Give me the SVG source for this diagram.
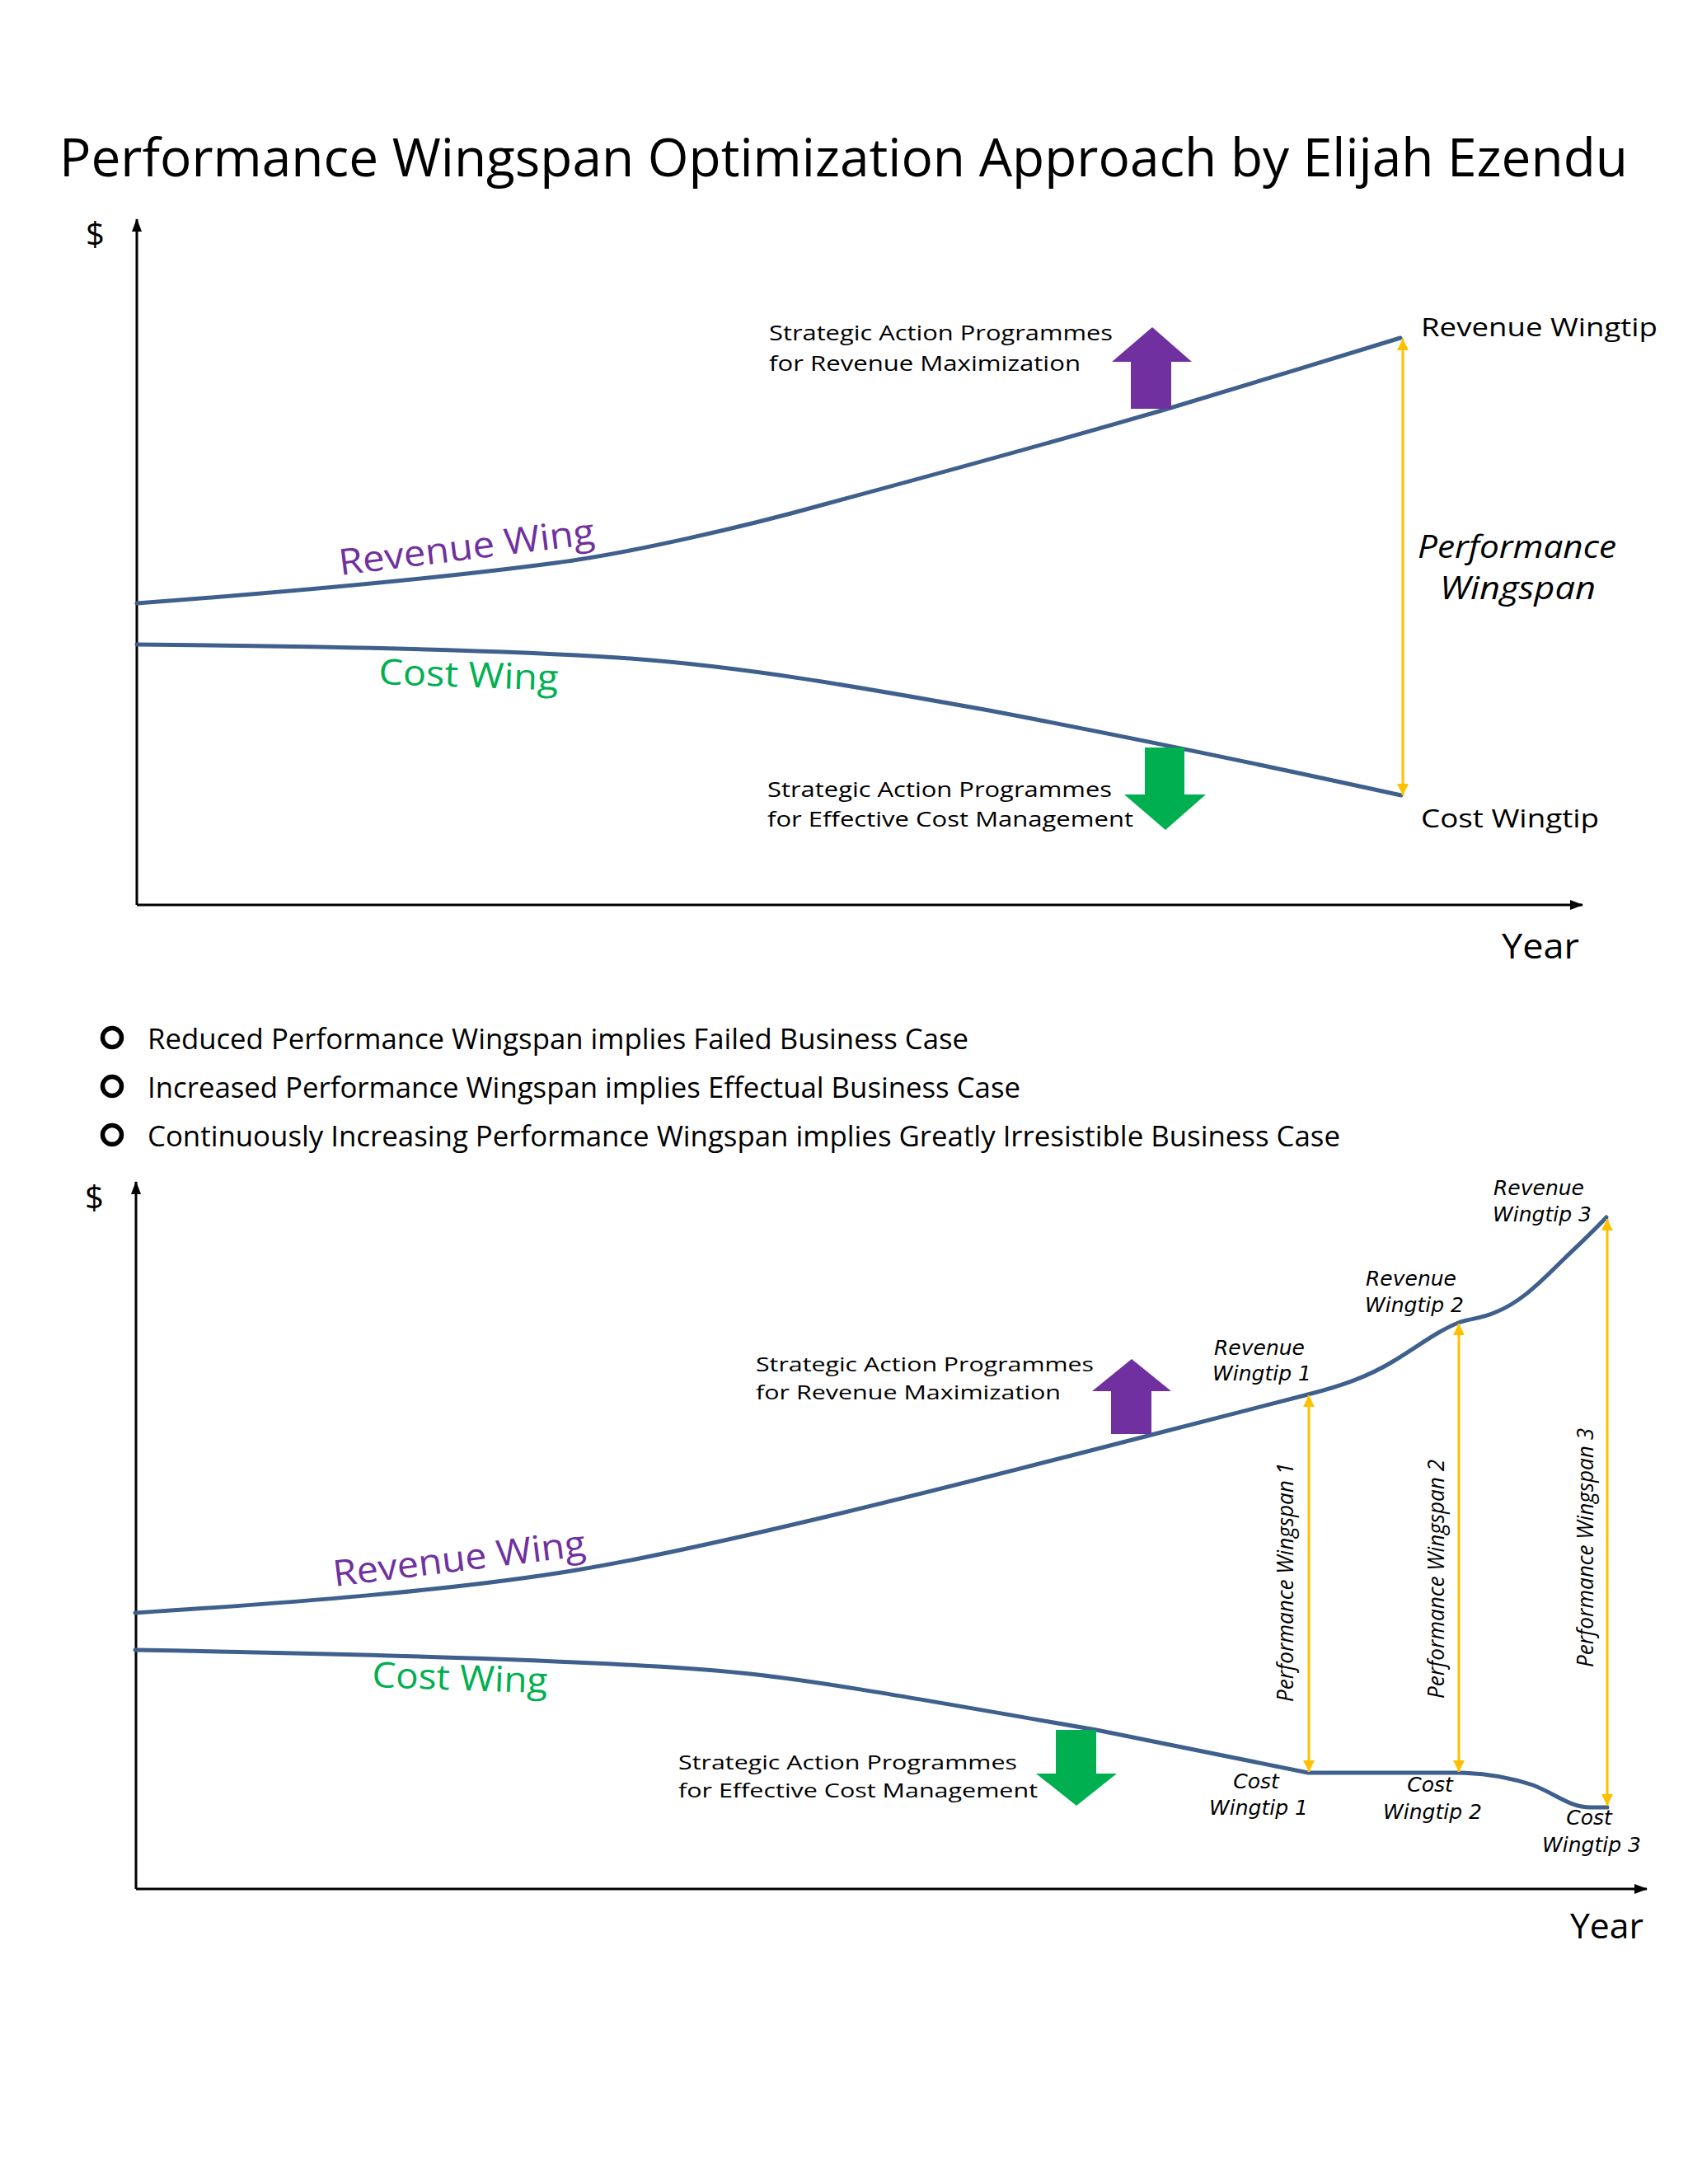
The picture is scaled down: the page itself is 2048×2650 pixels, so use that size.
<svg xmlns="http://www.w3.org/2000/svg" width="2048" height="2650" viewBox="0 0 2048 2650">
<style>
  .t { font-family: "Open Sans", "Liberation Sans", sans-serif; fill: #000; }
  .it { font-family: "Open Sans", "Liberation Sans", sans-serif; font-style: italic; fill: #000; }
  .tip { font-family: "DejaVu Sans", "Verdana", sans-serif; font-style: italic; font-size: 25px; fill: #000; }
  .wing { fill: none; stroke: #3F5F8C; stroke-width: 5; stroke-linecap: round; }
  .axis { fill: none; stroke: #000; stroke-width: 3; }
  .span { stroke: #FFC000; stroke-width: 3; }
  .rev { fill: #7030A0; }
  .cost { fill: #00B050; }
</style>
<defs>
  <marker id="axhead" viewBox="0 0 16 12" refX="15" refY="6" markerWidth="16" markerHeight="12" markerUnits="userSpaceOnUse" orient="auto">
    <path d="M0,0 L16,6 L0,12 z" fill="#000"/>
  </marker>
  <marker id="yhead" viewBox="0 0 14 14" refX="14" refY="7" markerWidth="14" markerHeight="14" markerUnits="userSpaceOnUse" orient="auto-start-reverse">
    <path d="M0,0 L14,7 L0,14 z" fill="#FFC000"/>
  </marker>
</defs>
<rect width="2048" height="2650" fill="#FFFFFF"/>

<g id="title">
  <text class="t" x="72" y="214" font-size="64" textLength="1903" lengthAdjust="spacingAndGlyphs">Performance Wingspan Optimization Approach by Elijah Ezendu</text>
</g>

<!-- ===== Chart 1 ===== -->
<g id="chart1-axes">
  <line class="axis" x1="166" y1="1098" x2="166" y2="266" marker-end="url(#axhead)"/>
  <line class="axis" x1="166" y1="1098" x2="1920" y2="1098" marker-end="url(#axhead)"/>
  <text class="t" x="104" y="298" font-size="40">$</text>
  <text class="t" x="1822" y="1163" font-size="42" textLength="94" lengthAdjust="spacingAndGlyphs">Year</text>
</g>

<g id="chart1-connectors">
  <path id="c1-revenue-wing" class="wing" d="M166,732 C300,722 500,706 674,683 C760,672 900,640 1000,612 C1100,585 1300,530 1420,495 C1520,465 1600,440 1699,410"/>
  <path id="c1-cost-wing" class="wing" d="M166,782 C400,784 600,788 750,798 C900,808 1050,835 1200,862 C1400,900 1550,932 1700,965"/>
  <line id="c1-span" class="span" x1="1702" y1="411" x2="1702" y2="965" marker-start="url(#yhead)" marker-end="url(#yhead)"/>
</g>

<g id="c1-revenue-arrow">
  <polygon class="rev" points="1398,397 1446,439 1421,439 1421,496 1372,496 1372,439 1349,439"/>
</g>
<g id="c1-cost-arrow">
  <polygon class="cost" points="1389,907 1437,907 1437,964 1463,964 1414,1007 1364,964 1389,964"/>
</g>

<g id="c1-revenue-wing-label">
  <text x="413" y="698" transform="rotate(-7 413 698)" font-family="Open Sans, Liberation Sans, sans-serif" font-size="44" fill="#7030A0" textLength="312" lengthAdjust="spacingAndGlyphs">Revenue Wing</text>
</g>
<g id="c1-cost-wing-label">
  <text x="459" y="830" transform="rotate(2 459 830)" font-family="Open Sans, Liberation Sans, sans-serif" font-size="43" fill="#00B050" textLength="218" lengthAdjust="spacingAndGlyphs">Cost Wing</text>
</g>

<g id="c1-revenue-programmes">
  <text class="t" x="933" y="413" font-size="25" textLength="417" lengthAdjust="spacingAndGlyphs">Strategic Action Programmes</text>
  <text class="t" x="933" y="450" font-size="25" textLength="378" lengthAdjust="spacingAndGlyphs">for Revenue Maximization</text>
</g>
<g id="c1-cost-programmes">
  <text class="t" x="931" y="967" font-size="25" textLength="418" lengthAdjust="spacingAndGlyphs">Strategic Action Programmes</text>
  <text class="t" x="931" y="1003" font-size="25" textLength="444" lengthAdjust="spacingAndGlyphs">for Effective Cost Management</text>
</g>

<g id="c1-revenue-wingtip">
  <text class="t" x="1724" y="408" font-size="31" textLength="287" lengthAdjust="spacingAndGlyphs">Revenue Wingtip</text>
</g>
<g id="c1-cost-wingtip">
  <text class="t" x="1724" y="1004" font-size="31" textLength="216" lengthAdjust="spacingAndGlyphs">Cost Wingtip</text>
</g>
<g id="c1-performance-wingspan">
  <text class="it" x="1720" y="677" font-size="38" textLength="241" lengthAdjust="spacingAndGlyphs">Performance</text>
  <text class="it" x="1747" y="727" font-size="38" textLength="189" lengthAdjust="spacingAndGlyphs">Wingspan</text>
</g>

<!-- ===== Bullets ===== -->
<g id="bullets">
  <circle cx="136" cy="1259" r="11.5" fill="none" stroke="#000" stroke-width="5.5"/>
  <text class="t" x="179" y="1273" font-size="34" textLength="996" lengthAdjust="spacingAndGlyphs">Reduced Performance Wingspan implies Failed Business Case</text>
  <circle cx="136" cy="1318" r="11.5" fill="none" stroke="#000" stroke-width="5.5"/>
  <text class="t" x="179" y="1332" font-size="34" textLength="1059" lengthAdjust="spacingAndGlyphs">Increased Performance Wingspan implies Effectual Business Case</text>
  <circle cx="136" cy="1377" r="11.5" fill="none" stroke="#000" stroke-width="5.5"/>
  <text class="t" x="179" y="1391" font-size="34" textLength="1447" lengthAdjust="spacingAndGlyphs">Continuously Increasing Performance Wingspan implies Greatly Irresistible Business Case</text>
</g>

<!-- ===== Chart 2 ===== -->
<g id="chart2-axes">
  <line class="axis" x1="165" y1="2292" x2="165" y2="1434" marker-end="url(#axhead)"/>
  <line class="axis" x1="165" y1="2292" x2="1998" y2="2292" marker-end="url(#axhead)"/>
  <text class="t" x="103" y="1467" font-size="40">$</text>
  <text class="t" x="1905" y="2352" font-size="42" textLength="89" lengthAdjust="spacingAndGlyphs">Year</text>
</g>

<g id="chart2-connectors">
  <path id="c2-revenue-wing" class="wing" d="M164,1957 C350,1945 550,1930 700,1905 C850,1880 1100,1818 1397,1741 L1587,1692 C1630,1681 1660,1670 1690,1652 C1720,1634 1745,1614 1772,1604 C1785,1600 1800,1599 1815,1592 C1840,1582 1860,1565 1895,1530 C1920,1506 1935,1492 1949,1477"/>
  <path id="c2-cost-wing" class="wing" d="M164,2002 C450,2007 750,2015 900,2030 C1000,2040 1150,2068 1330,2099 L1587,2151 L1768,2151 C1800,2151 1830,2156 1860,2166 C1890,2178 1905,2193 1930,2193 L1950,2193"/>
  <line id="c2-span1" class="span" x1="1588" y1="1693" x2="1588" y2="2150" marker-start="url(#yhead)" marker-end="url(#yhead)"/>
  <line id="c2-span2" class="span" x1="1770" y1="1606" x2="1770" y2="2150" marker-start="url(#yhead)" marker-end="url(#yhead)"/>
  <line id="c2-span3" class="span" x1="1950" y1="1479" x2="1950" y2="2191" marker-start="url(#yhead)" marker-end="url(#yhead)"/>
</g>

<g id="c2-revenue-arrow">
  <polygon class="rev" points="1373,1649 1421,1688 1397,1688 1397,1740 1348,1740 1348,1688 1325,1688"/>
</g>
<g id="c2-cost-arrow">
  <polygon class="cost" points="1281,2099 1330,2099 1330,2152 1355,2152 1306,2191 1257,2152 1281,2152"/>
</g>

<g id="c2-revenue-wing-label">
  <text x="406" y="1925" transform="rotate(-7 406 1925)" font-family="Open Sans, Liberation Sans, sans-serif" font-size="44" fill="#7030A0" textLength="308" lengthAdjust="spacingAndGlyphs">Revenue Wing</text>
</g>
<g id="c2-cost-wing-label">
  <text x="451" y="2047" transform="rotate(2 451 2047)" font-family="Open Sans, Liberation Sans, sans-serif" font-size="43" fill="#00B050" textLength="213" lengthAdjust="spacingAndGlyphs">Cost Wing</text>
</g>

<g id="c2-revenue-programmes">
  <text class="t" x="917" y="1664" font-size="23" textLength="410" lengthAdjust="spacingAndGlyphs">Strategic Action Programmes</text>
  <text class="t" x="917" y="1698" font-size="23" textLength="370" lengthAdjust="spacingAndGlyphs">for Revenue Maximization</text>
</g>
<g id="c2-cost-programmes">
  <text class="t" x="823" y="2147" font-size="23" textLength="411" lengthAdjust="spacingAndGlyphs">Strategic Action Programmes</text>
  <text class="t" x="823" y="2181" font-size="23" textLength="436" lengthAdjust="spacingAndGlyphs">for Effective Cost Management</text>
</g>

<g id="c2-revenue-wingtip1">
  <text class="tip" x="1528" y="1644" text-anchor="middle">Revenue</text>
  <text class="tip" x="1531" y="1675" text-anchor="middle">Wingtip 1</text>
</g>
<g id="c2-revenue-wingtip2">
  <text class="tip" x="1712" y="1560" text-anchor="middle">Revenue</text>
  <text class="tip" x="1716" y="1592" text-anchor="middle">Wingtip 2</text>
</g>
<g id="c2-revenue-wingtip3">
  <text class="tip" x="1867" y="1450" text-anchor="middle">Revenue</text>
  <text class="tip" x="1871" y="1482" text-anchor="middle">Wingtip 3</text>
</g>

<g id="c2-cost-wingtip1">
  <text class="tip" x="1524" y="2170" text-anchor="middle">Cost</text>
  <text class="tip" x="1527" y="2202" text-anchor="middle">Wingtip 1</text>
</g>
<g id="c2-cost-wingtip2">
  <text class="tip" x="1735" y="2174" text-anchor="middle">Cost</text>
  <text class="tip" x="1738" y="2207" text-anchor="middle">Wingtip 2</text>
</g>
<g id="c2-cost-wingtip3">
  <text class="tip" x="1928" y="2214" text-anchor="middle">Cost</text>
  <text class="tip" x="1931" y="2247" text-anchor="middle">Wingtip 3</text>
</g>

<g id="c2-wingspan-labels">
  <text class="it" x="1569" y="1920" font-size="28" text-anchor="middle" transform="rotate(-90 1569 1920)" textLength="290" lengthAdjust="spacingAndGlyphs">Performance Wingspan 1</text>
  <text class="it" x="1752" y="1916" font-size="28" text-anchor="middle" transform="rotate(-90 1752 1916)" textLength="290" lengthAdjust="spacingAndGlyphs">Performance Wingspan 2</text>
  <text class="it" x="1933" y="1878" font-size="28" text-anchor="middle" transform="rotate(-90 1933 1878)" textLength="290" lengthAdjust="spacingAndGlyphs">Performance Wingspan 3</text>
</g>
</svg>
